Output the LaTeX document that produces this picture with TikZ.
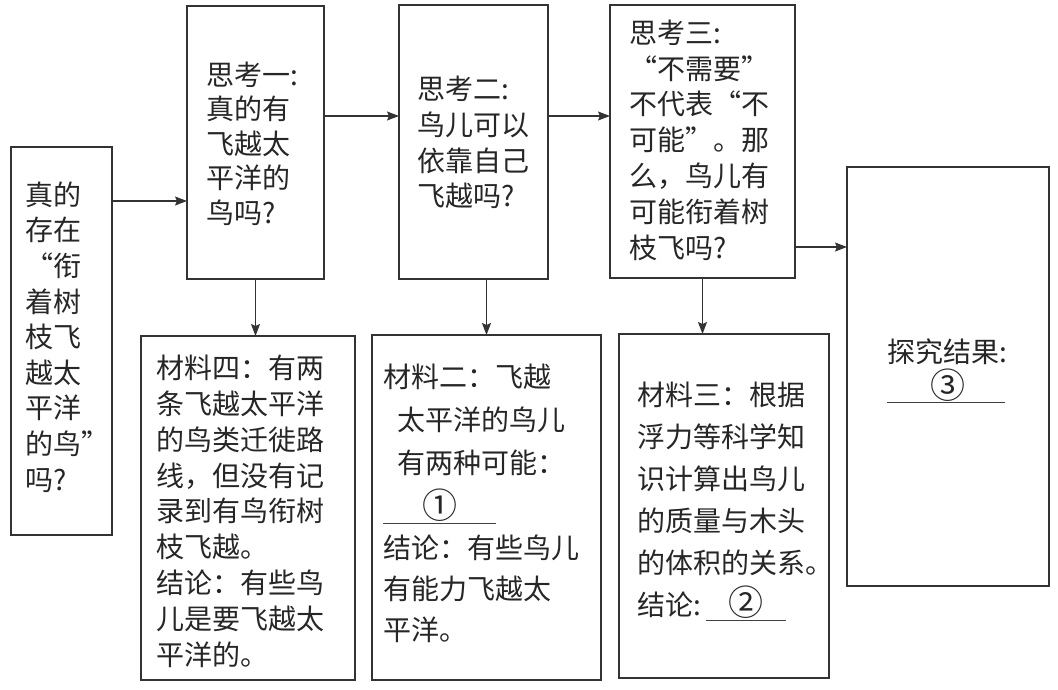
\documentclass[tikz,border=0pt]{standalone}
\usepackage{fontspec}
\newfontfamily\cjk{Noto Sans CJK SC}
\usetikzlibrary{arrows.meta}

\begin{document}
\begin{tikzpicture}[x=1pt,y=-1pt,
  every node/.style={outer sep=0pt},
  box/.style={draw=black!80, line width=1.3pt, inner sep=0pt},
  txt/.style={anchor=base west, inner sep=0pt, align=left, text=black!85,
    font=\cjk\fontsize{28}{35.8}\selectfont},
  loose/.style={txt, font=\cjk\fontsize{28}{42}\selectfont},
  gap/.style={txt, anchor=center, font=\cjk\fontsize{35}{35}\selectfont},
  blank/.style={draw=black!75, line width=0.9pt},
  arr/.style={draw=black!80, line width=1.1pt, -{Stealth[length=12pt,width=9pt,inset=2pt]}}]
\useasboundingbox (0,0) rectangle (1058,690);

\node[box, minimum width=101, minimum height=388] (ask) at (61.5,341) {};
\node[box, minimum width=137, minimum height=273] (q1) at (255.5,142.5) {};
\node[box, minimum width=149, minimum height=274] (q2) at (473.5,142) {};
\node[box, minimum width=185, minimum height=273] (q3) at (702.5,141.5) {};
\node[box, minimum width=202, minimum height=419] (res) at (948,376.5) {};
\node[box, minimum width=214, minimum height=344] (m4) at (248,508) {};
\node[box, minimum width=229, minimum height=345] (m2) at (486.5,507.5) {};
\node[box, minimum width=210, minimum height=344] (m3) at (724,506) {};

% the base of a text node is its last line
\node[txt, font=\cjk\fontsize{28}{35.6}\selectfont] (t-ask) at (25,490)
  {真的\\存在\\“衔\\着树\\枝飞\\越太\\平洋\\的鸟”\\吗?};
\node[txt, font=\cjk\fontsize{28}{34.5}\selectfont] (t-q1) at (206,223)
  {思考一:\\真的有\\飞越太\\平洋的\\鸟吗?};
\node[txt] (t-q2) at (417,207) {思考二:\\鸟儿可以\\依靠自己\\飞越吗?};
\node[txt] (t-q3) at (629,258)
  {思考三:\\“不需要”\\不代表“不\\可能”。那\\么，鸟儿有\\可能衔着树\\枝飞吗?};
\node[txt] (t-m4) at (156,665)
  {材料四：有两\\条飞越太平洋\\的鸟类迁徙路\\线，但没有记\\录到有鸟衔树\\枝飞越。\\结论：有些鸟\\儿是要飞越太\\平洋的。};
\node[loose, font=\cjk\fontsize{28}{43}\selectfont] (t-m2) at (383,473)
  {材料二：飞越\\\hspace*{14pt}太平洋的鸟儿\\\hspace*{14pt}有两种可能：};
\node[gap] (n1) at (440,505) {①};
\node[loose, font=\cjk\fontsize{28}{41}\selectfont] (t-m2b) at (383,640)
  {结论：有些鸟儿\\有能力飞越太\\平洋。};
\node[loose] (t-m3) at (637,615)
  {材料三：根据\\浮力等科学知\\识计算出鸟儿\\的质量与木头\\的体积的关系。\\结论:};
\node[gap] (n2) at (746,602) {②};
\node[txt] (t-res) at (887,362) {探究结果:};
\node[gap] (n3) at (948,385) {③};

\draw[blank] (383,523) -- (496,523);
\draw[blank] (706,620) -- (786,620);
\draw[blank] (887,402) -- (1005,402);

\draw[arr] (ask.east |- 0,201) -- (q1.west |- 0,201);
\draw[arr] (q1.east |- 0,116) -- (q2.west |- 0,116);
\draw[arr] (q2.east |- 0,116) -- (q3.west |- 0,116);
\draw[arr] (q3.east |- 0,247) -- (res.west |- 0,247);
\draw[arr] (q1.south) -- (q1.south |- m4.north);
\draw[arr] (m2.north |- q2.south) -- (m2.north);
\draw[arr] (q3.south) -- (q3.south |- m3.north);
\end{tikzpicture}
\end{document}
